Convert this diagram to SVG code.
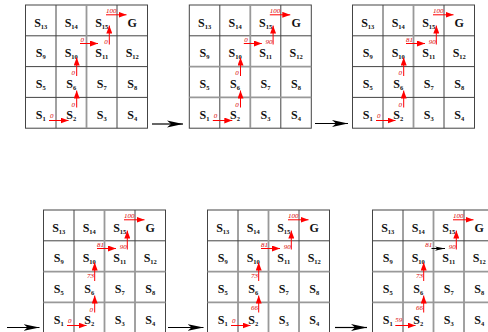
<svg xmlns="http://www.w3.org/2000/svg" xmlns:xlink="http://www.w3.org/1999/xlink" width="488" height="332" viewBox="0 0 488 332">
<style>
.bg{fill:#fff}
.cellbox{fill:#fff;stroke:#444;stroke-width:1}
.gl{stroke:#444;stroke-width:1;fill:none}
.gm{stroke:#999;stroke-width:1.8;fill:none}
.s{font-family:"Liberation Serif","Times New Roman",serif;font-weight:bold;font-size:12px;text-anchor:middle;fill:#111}
.sub{font-size:6.5px}
.v{font-family:"Liberation Serif","Times New Roman",serif;font-style:italic;font-size:7px;fill:#d80000}
.ve{text-anchor:end}
.ra{stroke:#f00;stroke-width:1;fill:none;marker-end:url(#rh)}
.ba{stroke:#000;stroke-width:1;fill:none;marker-end:url(#bhs)}
.conn{stroke:#000;stroke-width:1.2;fill:none;marker-end:url(#bh)}
</style>
<defs>
<marker id="rh" viewBox="0 0 8 6" refX="8" refY="3" markerWidth="8" markerHeight="6" orient="auto" markerUnits="userSpaceOnUse"><path d="M0,0 L8,3 L0,6 z" fill="#f00"/></marker>
<marker id="bh" viewBox="0 0 16 8" refX="16" refY="4" markerWidth="16" markerHeight="8" orient="auto" markerUnits="userSpaceOnUse"><path d="M0,0.6 L16,4 L0,7.4 L4,4 z" fill="#000"/></marker>
<marker id="bhs" viewBox="0 0 16 8" refX="16" refY="4" markerWidth="10" markerHeight="5" orient="auto" markerUnits="userSpaceOnUse"><path d="M0,0.6 L16,4 L0,7.4 L4,4 z" fill="#000"/></marker>
<g id="gridlines">
<rect class="cellbox" x="0" y="0" width="122" height="123.2"/>
<path class="gl" d="M30.5,0V123.2M91.5,0V123.2M0,30.8H122"/>
<path class="gm" d="M61,0V123.2"/>
</g>
<g id="gridlinesB">
<rect class="cellbox" x="0" y="0" width="122" height="123.2"/>
<path class="gl" d="M30.5,0V123.2M91.5,0V123.2M0,30.8H122"/>
<path class="gm" d="M61,0V123.2M0,61.6H122M0,92.4H122"/>
</g>
</defs>
<rect class="bg" x="0" y="0" width="488" height="332"/>

<g id="grid1" transform="translate(25.5,5)">
<use xlink:href="#gridlines"/>
<path class="gl" d="M0,61.6H122M0,92.4H122"/>
<g id="g1-states">
<text class="s" x="15.25" y="21.5">S<tspan class="sub" dy="2">13</tspan></text>
<text class="s" x="45.75" y="21.5">S<tspan class="sub" dy="2">14</tspan></text>
<text class="s" x="76.25" y="21.5">S<tspan class="sub" dy="2">15</tspan></text>
<text class="s" x="106.75" y="21.5">G</text>
<text class="s" x="15.25" y="52.3">S<tspan class="sub" dy="2">9</tspan></text>
<text class="s" x="45.75" y="52.3">S<tspan class="sub" dy="2">10</tspan></text>
<text class="s" x="76.25" y="52.3">S<tspan class="sub" dy="2">11</tspan></text>
<text class="s" x="106.75" y="52.3">S<tspan class="sub" dy="2">12</tspan></text>
<text class="s" x="15.25" y="83.1">S<tspan class="sub" dy="2">5</tspan></text>
<text class="s" x="45.75" y="83.1">S<tspan class="sub" dy="2">6</tspan></text>
<text class="s" x="76.25" y="83.1">S<tspan class="sub" dy="2">7</tspan></text>
<text class="s" x="106.75" y="83.1">S<tspan class="sub" dy="2">8</tspan></text>
<text class="s" x="15.25" y="113.9">S<tspan class="sub" dy="2">1</tspan></text>
<text class="s" x="45.75" y="113.9">S<tspan class="sub" dy="2">2</tspan></text>
<text class="s" x="76.25" y="113.9">S<tspan class="sub" dy="2">3</tspan></text>
<text class="s" x="106.75" y="113.9">S<tspan class="sub" dy="2">4</tspan></text>
</g>
<g id="g1-policy">
<path class="ra" d="M23.5,115.5H43"/><text class="v" x="24.5" y="113">0</text>
<path class="ra" d="M51.2,102.5V85.5"/><text class="v ve" x="49.5" y="102">0</text>
<path class="ra" d="M51.2,71V52.5"/><text class="v ve" x="49.5" y="70">0</text>
<path class="ra" d="M54.5,38.5H72.5"/><text class="v" x="55" y="36.5">0</text>
<path class="ra" d="M83.8,39.5V20.5"/><text class="v ve" x="82.3" y="39">0</text>
<path class="ra" d="M80.5,9.8H101"/><text class="v" x="80.5" y="8.3">100</text>
</g>
</g>

<g id="grid2" transform="translate(189.3,5)">
<use xlink:href="#gridlines"/>
<path class="gm" d="M0,61.6H122M0,92.4H122"/>
<g id="g2-states">
<text class="s" x="15.25" y="21.5">S<tspan class="sub" dy="2">13</tspan></text>
<text class="s" x="45.75" y="21.5">S<tspan class="sub" dy="2">14</tspan></text>
<text class="s" x="76.25" y="21.5">S<tspan class="sub" dy="2">15</tspan></text>
<text class="s" x="106.75" y="21.5">G</text>
<text class="s" x="15.25" y="52.3">S<tspan class="sub" dy="2">9</tspan></text>
<text class="s" x="45.75" y="52.3">S<tspan class="sub" dy="2">10</tspan></text>
<text class="s" x="76.25" y="52.3">S<tspan class="sub" dy="2">11</tspan></text>
<text class="s" x="106.75" y="52.3">S<tspan class="sub" dy="2">12</tspan></text>
<text class="s" x="15.25" y="83.1">S<tspan class="sub" dy="2">5</tspan></text>
<text class="s" x="45.75" y="83.1">S<tspan class="sub" dy="2">6</tspan></text>
<text class="s" x="76.25" y="83.1">S<tspan class="sub" dy="2">7</tspan></text>
<text class="s" x="106.75" y="83.1">S<tspan class="sub" dy="2">8</tspan></text>
<text class="s" x="15.25" y="113.9">S<tspan class="sub" dy="2">1</tspan></text>
<text class="s" x="45.75" y="113.9">S<tspan class="sub" dy="2">2</tspan></text>
<text class="s" x="76.25" y="113.9">S<tspan class="sub" dy="2">3</tspan></text>
<text class="s" x="106.75" y="113.9">S<tspan class="sub" dy="2">4</tspan></text>
</g>
<g id="g2-policy">
<path class="ra" d="M23.5,115.5H43"/><text class="v" x="24.5" y="113">0</text>
<path class="ra" d="M51.2,102.5V85.5"/><text class="v ve" x="49.5" y="102">0</text>
<path class="ra" d="M51.2,71V52.5"/><text class="v ve" x="49.5" y="70">0</text>
<path class="ra" d="M54.5,38.5H72.5"/><text class="v" x="55" y="36.5">0</text>
<path class="ra" d="M83.8,39.5V20.5"/><text class="v ve" x="83.3" y="39">90</text>
<path class="ra" d="M80.5,9.8H101"/><text class="v" x="80.5" y="8.3">100</text>
</g>
</g>

<g id="grid3" transform="translate(352.5,5)">
<use xlink:href="#gridlines"/>
<path class="gl" d="M0,61.6H122M0,92.4H122"/>
<g id="g3-states">
<text class="s" x="15.25" y="21.5">S<tspan class="sub" dy="2">13</tspan></text>
<text class="s" x="45.75" y="21.5">S<tspan class="sub" dy="2">14</tspan></text>
<text class="s" x="76.25" y="21.5">S<tspan class="sub" dy="2">15</tspan></text>
<text class="s" x="106.75" y="21.5">G</text>
<text class="s" x="15.25" y="52.3">S<tspan class="sub" dy="2">9</tspan></text>
<text class="s" x="45.75" y="52.3">S<tspan class="sub" dy="2">10</tspan></text>
<text class="s" x="76.25" y="52.3">S<tspan class="sub" dy="2">11</tspan></text>
<text class="s" x="106.75" y="52.3">S<tspan class="sub" dy="2">12</tspan></text>
<text class="s" x="15.25" y="83.1">S<tspan class="sub" dy="2">5</tspan></text>
<text class="s" x="45.75" y="83.1">S<tspan class="sub" dy="2">6</tspan></text>
<text class="s" x="76.25" y="83.1">S<tspan class="sub" dy="2">7</tspan></text>
<text class="s" x="106.75" y="83.1">S<tspan class="sub" dy="2">8</tspan></text>
<text class="s" x="15.25" y="113.9">S<tspan class="sub" dy="2">1</tspan></text>
<text class="s" x="45.75" y="113.9">S<tspan class="sub" dy="2">2</tspan></text>
<text class="s" x="76.25" y="113.9">S<tspan class="sub" dy="2">3</tspan></text>
<text class="s" x="106.75" y="113.9">S<tspan class="sub" dy="2">4</tspan></text>
</g>
<g id="g3-policy">
<path class="ra" d="M23.5,115.5H43"/><text class="v" x="24.5" y="113">0</text>
<path class="ra" d="M51.2,102.5V85.5"/><text class="v ve" x="49.5" y="102">0</text>
<path class="ra" d="M51.2,71V52.5"/><text class="v ve" x="49.5" y="70">0</text>
<path class="ra" d="M53.5,38.5H72.5"/><text class="v" x="53.5" y="36.5">81</text>
<path class="ra" d="M83.8,39.5V20.5"/><text class="v ve" x="83.3" y="39">90</text>
<path class="ra" d="M80.5,9.8H101"/><text class="v" x="80.5" y="8.3">100</text>
</g>
</g>

<g id="grid4" transform="translate(43.5,210)">
<use xlink:href="#gridlinesB"/>
<g id="g4-states">
<text class="s" x="15.25" y="21.5">S<tspan class="sub" dy="2">13</tspan></text>
<text class="s" x="45.75" y="21.5">S<tspan class="sub" dy="2">14</tspan></text>
<text class="s" x="76.25" y="21.5">S<tspan class="sub" dy="2">15</tspan></text>
<text class="s" x="106.75" y="21.5">G</text>
<text class="s" x="15.25" y="52.3">S<tspan class="sub" dy="2">9</tspan></text>
<text class="s" x="45.75" y="52.3">S<tspan class="sub" dy="2">10</tspan></text>
<text class="s" x="76.25" y="52.3">S<tspan class="sub" dy="2">11</tspan></text>
<text class="s" x="106.75" y="52.3">S<tspan class="sub" dy="2">12</tspan></text>
<text class="s" x="15.25" y="83.1">S<tspan class="sub" dy="2">5</tspan></text>
<text class="s" x="45.75" y="83.1">S<tspan class="sub" dy="2">6</tspan></text>
<text class="s" x="76.25" y="83.1">S<tspan class="sub" dy="2">7</tspan></text>
<text class="s" x="106.75" y="83.1">S<tspan class="sub" dy="2">8</tspan></text>
<text class="s" x="15.25" y="113.9">S<tspan class="sub" dy="2">1</tspan></text>
<text class="s" x="45.75" y="113.9">S<tspan class="sub" dy="2">2</tspan></text>
<text class="s" x="76.25" y="113.9">S<tspan class="sub" dy="2">3</tspan></text>
<text class="s" x="106.75" y="113.9">S<tspan class="sub" dy="2">4</tspan></text>
</g>
<g id="g4-policy">
<path class="ra" d="M23.5,115.5H43"/><text class="v" x="24.5" y="113">0</text>
<path class="ra" d="M51.2,102.5V85.5"/><text class="v ve" x="49.5" y="102">0</text>
<path class="ra" d="M51.2,71V52.5"/><text class="v ve" x="50.5" y="67.5">73</text>
<path class="ra" d="M53.5,38.5H72.5"/><text class="v" x="53.5" y="36.5">81</text>
<path class="ra" d="M83.8,39.5V20.5"/><text class="v ve" x="83.3" y="39">90</text>
<path class="ra" d="M80.5,9.8H101"/><text class="v" x="80.5" y="8.3">100</text>
</g>
</g>

<g id="grid5" transform="translate(207.5,210)">
<use xlink:href="#gridlinesB"/>
<g id="g5-states">
<text class="s" x="15.25" y="21.5">S<tspan class="sub" dy="2">13</tspan></text>
<text class="s" x="45.75" y="21.5">S<tspan class="sub" dy="2">14</tspan></text>
<text class="s" x="76.25" y="21.5">S<tspan class="sub" dy="2">15</tspan></text>
<text class="s" x="106.75" y="21.5">G</text>
<text class="s" x="15.25" y="52.3">S<tspan class="sub" dy="2">9</tspan></text>
<text class="s" x="45.75" y="52.3">S<tspan class="sub" dy="2">10</tspan></text>
<text class="s" x="76.25" y="52.3">S<tspan class="sub" dy="2">11</tspan></text>
<text class="s" x="106.75" y="52.3">S<tspan class="sub" dy="2">12</tspan></text>
<text class="s" x="15.25" y="83.1">S<tspan class="sub" dy="2">5</tspan></text>
<text class="s" x="45.75" y="83.1">S<tspan class="sub" dy="2">6</tspan></text>
<text class="s" x="76.25" y="83.1">S<tspan class="sub" dy="2">7</tspan></text>
<text class="s" x="106.75" y="83.1">S<tspan class="sub" dy="2">8</tspan></text>
<text class="s" x="15.25" y="113.9">S<tspan class="sub" dy="2">1</tspan></text>
<text class="s" x="45.75" y="113.9">S<tspan class="sub" dy="2">2</tspan></text>
<text class="s" x="76.25" y="113.9">S<tspan class="sub" dy="2">3</tspan></text>
<text class="s" x="106.75" y="113.9">S<tspan class="sub" dy="2">4</tspan></text>
</g>
<g id="g5-policy">
<path class="ra" d="M23.5,115.5H43"/><text class="v" x="24.5" y="113">0</text>
<path class="ra" d="M51.2,102.5V85.5"/><text class="v ve" x="50.5" y="100">66</text>
<path class="ra" d="M51.2,71V52.5"/><text class="v ve" x="50.5" y="67.5">73</text>
<path class="ra" d="M53.5,38.5H72.5"/><text class="v" x="53.5" y="36.5">81</text>
<path class="ra" d="M83.8,39.5V20.5"/><text class="v ve" x="83.3" y="39">90</text>
<path class="ra" d="M80.5,9.8H101"/><text class="v" x="80.5" y="8.3">100</text>
</g>
</g>

<g id="grid6" transform="translate(372.5,210)">
<use xlink:href="#gridlinesB"/>
<g id="g6-states">
<text class="s" x="15.25" y="21.5">S<tspan class="sub" dy="2">13</tspan></text>
<text class="s" x="45.75" y="21.5">S<tspan class="sub" dy="2">14</tspan></text>
<text class="s" x="76.25" y="21.5">S<tspan class="sub" dy="2">15</tspan></text>
<text class="s" x="106.75" y="21.5">G</text>
<text class="s" x="15.25" y="52.3">S<tspan class="sub" dy="2">9</tspan></text>
<text class="s" x="45.75" y="52.3">S<tspan class="sub" dy="2">10</tspan></text>
<text class="s" x="76.25" y="52.3">S<tspan class="sub" dy="2">11</tspan></text>
<text class="s" x="106.75" y="52.3">S<tspan class="sub" dy="2">12</tspan></text>
<text class="s" x="15.25" y="83.1">S<tspan class="sub" dy="2">5</tspan></text>
<text class="s" x="45.75" y="83.1">S<tspan class="sub" dy="2">6</tspan></text>
<text class="s" x="76.25" y="83.1">S<tspan class="sub" dy="2">7</tspan></text>
<text class="s" x="106.75" y="83.1">S<tspan class="sub" dy="2">8</tspan></text>
<text class="s" x="15.25" y="113.9">S<tspan class="sub" dy="2">1</tspan></text>
<text class="s" x="45.75" y="113.9">S<tspan class="sub" dy="2">2</tspan></text>
<text class="s" x="76.25" y="113.9">S<tspan class="sub" dy="2">3</tspan></text>
<text class="s" x="106.75" y="113.9">S<tspan class="sub" dy="2">4</tspan></text>
</g>
<g id="g6-policy">
<path class="ra" d="M22.8,115.5H43"/><text class="v" x="22.8" y="111.5">59</text>
<path class="ra" d="M51.2,102.5V85.5"/><text class="v ve" x="50.5" y="100">66</text>
<path class="ra" d="M51.2,71V52.5"/><text class="v ve" x="50.5" y="67.5">73</text>
<path class="ba" d="M59,38.5H72.5"/><text class="v" x="52.8" y="37">81</text>
<path class="ra" d="M83.8,39.5V20.5"/><text class="v ve" x="83.3" y="39">90</text>
<path class="ra" d="M80.5,9.8H101"/><text class="v" x="80.5" y="8.3">100</text>
</g>
</g>

<g id="connectors">
<path class="conn" d="M152,124H183"/>
<path class="conn" d="M315,123.5H348"/>
<path class="conn" d="M7,327.5H39.5"/>
<path class="conn" d="M168,327.5H203.5"/>
<path class="conn" d="M335,327.5H367"/>
</g>
</svg>
